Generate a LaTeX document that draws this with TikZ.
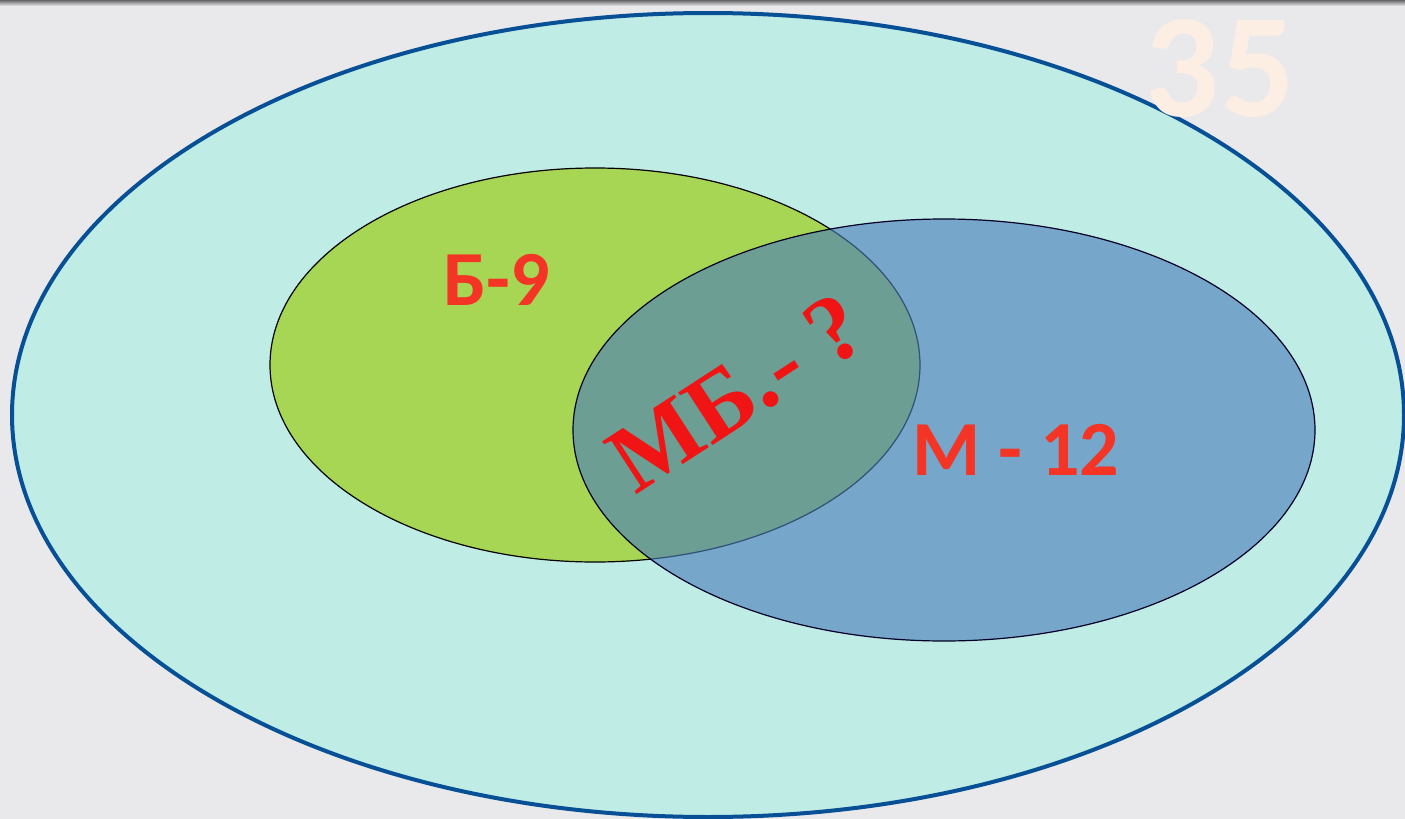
\documentclass[tikz,border=0pt]{standalone}
\usepackage{fontspec}
\setmainfont{Liberation Serif}
\newfontfamily\calib{Carlito}
\definecolor{bgcol}{RGB}{233,233,235}
\definecolor{outercol}{RGB}{192,236,230}
\definecolor{outerline}{RGB}{8,80,150}
\definecolor{greencol}{RGB}{166,214,84}
\definecolor{bluecol}{RGB}{77,127,185}
\definecolor{labred}{RGB}{244,52,36}
\definecolor{qred}{RGB}{240,20,20}
\definecolor{numcol}{RGB}{253,238,228}
\begin{document}
\begin{tikzpicture}[x=0.5pt,y=-0.5pt,
  lab/.style={text=labred,font=\calib\bfseries\fontsize{39}{40}\selectfont,inner sep=0pt},
  qtext/.style={font=\bfseries\fontsize{48}{50}\selectfont,inner sep=0pt,rotate=33}]
\useasboundingbox (0,0) rectangle (1405,819);
\fill[bgcol] (0,0) rectangle (1405,819);
\shade[top color=black!60,bottom color=bgcol] (0,0) rectangle (1405,6);
% outer set
\node[coordinate] (U) at (708,415) {};
\draw[outerline,line width=2pt,fill=outercol] (U) ellipse [x radius=696,y radius=402];
% B set
\node[coordinate] (B) at (595,365) {};
\draw[black,line width=0.6pt,fill=greencol] (B) ellipse [x radius=325,y radius=197];
% M set
\node[coordinate] (M) at (944,430) {};
\fill[bluecol,fill opacity=0.64] (M) ellipse [x radius=371,y radius=211];
\draw[black!85!blue,line width=0.6pt] (M) ellipse [x radius=371,y radius=211];
% labels
\node[lab] (lb) at (497,280) {Б-9};
\node[lab] (lm) at (1016,450) {М - 12};
\node[text=numcol,font=\calib\bfseries\fontsize{74}{76}\selectfont,inner sep=0pt] (n35) at (1220,68) {35};
\node[qtext,text=qred] (q) at (737,393) {МБ.- ?};
\end{tikzpicture}
\end{document}
